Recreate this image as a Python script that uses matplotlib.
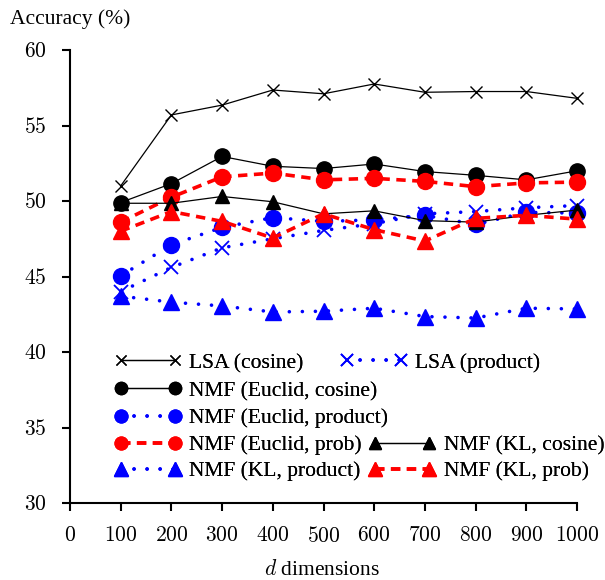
import matplotlib
matplotlib.use("Agg")
import matplotlib.pyplot as plt

plt.rcParams['mathtext.fontset'] = 'cm'
plt.rcParams['font.family'] = ['Liberation Serif', 'DejaVu Serif']

dims = [100, 200, 300, 400, 500, 600, 700, 800, 900, 1000]
lsa_cosine = [51.0, 55.7, 56.35, 57.35, 57.1, 57.75, 57.2, 57.25, 57.25, 56.8]
lsa_product = [44.0, 45.6, 46.9, 47.5, 48.05, 48.5, 49.15, 49.3, 49.55, 49.7]
nmf_euc_cosine = [49.9, 51.15, 52.95, 52.3, 52.15, 52.45, 51.95, 51.7, 51.4, 52.0]
nmf_euc_product = [45.05, 47.1, 48.25, 48.9, 48.65, 48.75, 49.05, 48.45, 49.25, 49.2]
nmf_euc_prob = [48.6, 50.25, 51.6, 51.85, 51.4, 51.5, 51.3, 50.95, 51.2, 51.25]
nmf_kl_cosine = [49.85, 49.85, 50.3, 49.95, 49.15, 49.35, 48.7, 48.6, 49.05, 49.4]
nmf_kl_product = [43.7, 43.3, 43.05, 42.65, 42.7, 42.9, 42.35, 42.25, 42.9, 42.85]
nmf_kl_prob = [48.0, 49.3, 48.65, 47.55, 49.15, 48.1, 47.35, 48.85, 49.05, 48.8]

labels = ['LSA (cosine)', 'LSA (product)', 'NMF (Euclid, cosine)',
          'NMF (Euclid, product)', 'NMF (Euclid, prob)', 'NMF (KL, cosine)',
          'NMF (KL, product)', 'NMF (KL, prob)']
x_ticks = [0, 100, 200, 300, 400, 500, 600, 700, 800, 900, 1000]
y_ticks = [30, 35, 40, 45, 50, 55, 60]

W, H = 605, 580
fig = plt.figure(figsize=(W / 100, H / 100), dpi=100)
ax = fig.add_axes([70 / W, 1 - 503 / H, (577 - 70) / W, (503 - 50) / H])

dot = (0, (0.01, 3.6))
dash = (0, (2.6, 1.8))
solid_kw = dict(color='black', lw=0.9, linestyle='-')
blue_kw = dict(color='blue', lw=2.6, linestyle=dot, dash_capstyle='round')
red_kw = dict(color='red', lw=2.6, linestyle=dash, dash_capstyle='butt')

styles = [
    (lsa_cosine, dict(solid_kw, marker='x', ms=9, mew=1.0)),
    (lsa_product, dict(blue_kw, marker='x', ms=10, mew=1.3)),
    (nmf_euc_cosine, dict(solid_kw, marker='o', ms=11)),
    (nmf_euc_product, dict(blue_kw, marker='o', ms=11.5)),
    (nmf_euc_prob, dict(red_kw, marker='o', ms=11.5)),
    (nmf_kl_cosine, dict(solid_kw, marker='^', ms=10.5)),
    (nmf_kl_product, dict(blue_kw, marker='^', ms=12)),
    (nmf_kl_prob, dict(red_kw, marker='^', ms=12)),
]

handles = []
for (vals, kw), lab in zip(styles, labels):
    ln, = ax.plot(dims, vals, label=lab, clip_on=False, **kw)
    handles.append(ln)

ax.set_xlim(0, 1000)
ax.set_ylim(30, 60)
ax.set_xticks(x_ticks)
ax.set_yticks(y_ticks)
ax.set_xticklabels([f'${t}$' for t in x_ticks])
ax.set_yticklabels([f'${t}$' for t in y_ticks])
ax.spines['top'].set_visible(False)
ax.spines['right'].set_visible(False)
for s in ('left', 'bottom'):
    ax.spines[s].set_linewidth(1.5)
ax.tick_params(direction='out', length=6, width=1.5, labelsize=15.5)
ax.tick_params(axis='y', pad=11)
ax.tick_params(axis='x', pad=11)

# legend entries, arranged as in the reference
positions = [
    (114.5, 363), (340.5, 363),
    (114.5, 391),
    (114.5, 418),
    (114.5, 445), (368.8, 445),
    (114.5, 471), (368.8, 471),
]
for h, (px, py) in zip(handles, positions):
    leg = fig.legend([h], [h.get_label()], loc='center left',
                     bbox_to_anchor=(px / W, 1 - py / H),
                     bbox_transform=fig.transFigure, frameon=False,
                     borderpad=0, borderaxespad=0, handlelength=3.1,
                     handletextpad=0.38, numpoints=2, markerscale=0.8,
                     prop={'size': 15.5})
    fig.add_artist(leg)

fig.text(10 / W, 1 - 19 / H, 'Accuracy (%)', fontsize=15.5, va='center', ha='left')
fig.text(322 / W, 1 - 575 / H, r'$d$ dimensions', fontsize=15.5, va='baseline', ha='center')

fig.savefig('out.png', dpi=100)
